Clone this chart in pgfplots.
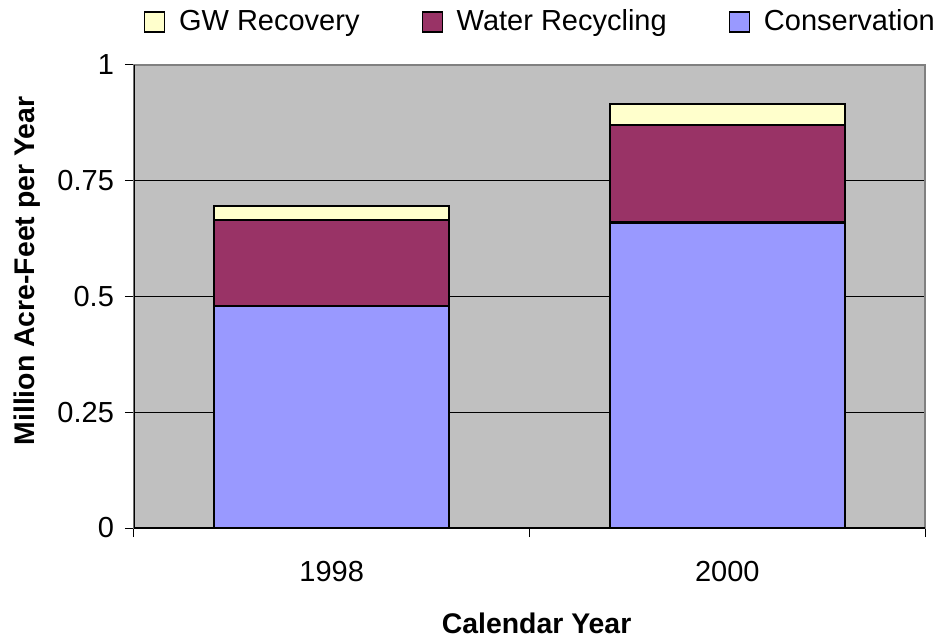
\documentclass[border=0pt]{standalone}
\usepackage{pgfplots}
\pgfplotsset{compat=1.18}
\usepackage{fontspec}
\setmainfont{Liberation Sans}
\definecolor{cons}{HTML}{9999FF}
\definecolor{recy}{HTML}{993366}
\definecolor{gwr}{HTML}{FFFFCC}
\definecolor{plotbg}{HTML}{C0C0C0}
\definecolor{boxgray}{HTML}{808080}
\begin{document}
\begin{tikzpicture}
\begin{axis}[
  scale only axis,
  width=395.5pt, height=231.5pt,
  ybar stacked,
  bar width=0.594,
  xmin=-0.5, xmax=1.5,
  ymin=0, ymax=1,
  ytick={0,0.25,0.5,0.75,1},
  yticklabels={0,0.25,0.5,0.75,1},
  xtick={-0.5,0.5,1.5},
  xticklabels={,,},
  extra x ticks={0,1},
  extra x tick labels={1998,2000},
  extra x tick style={major tick length=0pt, grid=none},
  tick pos=left,
  tick align=outside,
  major tick length=4.5pt,
  tick style={black, line width=0.5pt},
  ymajorgrids,
  grid style={black, line width=0.5pt},
  axis line style={boxgray, line width=0.6pt},
  axis background/.style={fill=plotbg},
  /pgf/number format/assume math mode=true,
  tick label style={font=\fontsize{14.5}{17.4}\selectfont},
  xticklabel style={yshift=-13pt},
  yticklabel style={xshift=-2pt},
  xlabel={Calendar Year},
  ylabel={Million Acre-Feet per Year},
  label style={font=\fontsize{14.2}{17}\selectfont\bfseries},
  xlabel style={at={(axis description cs:0.509,-0.205)}, anchor=center},
  ylabel style={at={(axis description cs:-0.135,0.555)}, anchor=center},
  legend columns=-1,
  reverse legend,
  legend style={draw=none, fill=none, at={(axis description cs:0.515,1.093)}, anchor=center,
    font=\fontsize{14.5}{17.4}\selectfont,
    /tikz/every odd column/.append style={column sep=5pt},
    /tikz/every even column/.append style={column sep=29pt}},
  legend image code/.code={\draw[#1,draw=black,line width=0.6pt] (0pt,-5pt) rectangle (10pt,5pt);},
]
\addplot[fill=cons, draw=black, line width=1.1pt] coordinates {(0,0.480) (1,0.660)};
\addplot[fill=recy, draw=black, line width=1.1pt] coordinates {(0,0.186) (1,0.211)};
\addplot[fill=gwr, draw=black, line width=1.1pt] coordinates {(0,0.029) (1,0.044)};
\legend{Conservation, Water Recycling, GW Recovery}
\draw[black, line width=0.6pt] (rel axis cs:0,0) -- (rel axis cs:0,1);
\draw[black, line width=0.6pt] (rel axis cs:0,0) -- (rel axis cs:1,0);
\end{axis}
\path ([shift={(-67pt,-54.5pt)}]current axis.south west) rectangle ([shift={(10pt,32.5pt)}]current axis.north east);
\end{tikzpicture}
\end{document}
